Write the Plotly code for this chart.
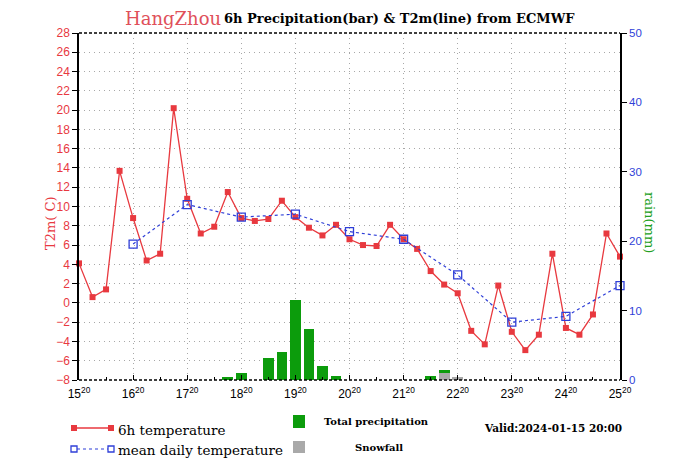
import plotly.graph_objects as go

# ---------------- data ----------------
hours = [6 * i for i in range(41)]  # hours after 15 Jan 20:00
temp_6h = [4.1, 0.6, 1.4, 13.7, 8.8, 4.4, 5.1, 20.2, 10.8, 7.2,
           7.9, 11.5, 8.8, 8.5, 8.7, 10.6, 8.9, 7.8, 7.0, 8.1,
           6.6, 6.0, 5.9, 8.1, 6.6, 5.6, 3.3, 1.9, 1.0, -2.9,
           -4.3, 1.8, -3.0, -4.9, -3.3, 5.1, -2.6, -3.3, -1.2, 7.2,
           4.8]
mean_hours = [24, 48, 72, 96, 120, 144, 168, 192, 216, 240]
temp_mean = [6.1, 10.2, 8.9, 9.2, 7.4, 6.6, 2.9, -2.0, -1.4, 1.8]
precip = [0, 0, 0, 0, 0, 0, 0, 0, 0, 0,
          0, 0.4, 1.0, 0, 3.2, 4.0, 11.6, 7.4, 2.0, 0.6,
          0, 0, 0, 0, 0, 0, 0.6, 1.5, 0.5, 0,
          0, 0, 0, 0, 0, 0, 0, 0, 0, 0,
          0]
snow = [0] * 27 + [1.05, 0.5] + [0] * 12
tick_hours = [0, 24, 48, 72, 96, 120, 144, 168, 192, 216, 240]
tick_days = ["15", "16", "17", "18", "19", "20", "21", "22", "23", "24", "25"]
tick_labels = [d + "<sup>20</sup>" for d in tick_days]

RED = "#e8393f"
BLUE = "#2f3fd8"
GREEN = "#0c9c0c"
GRAY = "#a9a9a9"
GRID = "#a8a8a8"

fig = go.Figure()
fig.add_trace(go.Bar(x=hours, y=precip, yaxis="y2", width=4.75,
                     marker=dict(color=GREEN, line=dict(width=0)), showlegend=False))
fig.add_trace(go.Bar(x=hours, y=snow, yaxis="y2", width=4.75,
                     marker=dict(color=GRAY, line=dict(width=0)), showlegend=False))
fig.add_trace(go.Scatter(x=hours, y=temp_6h, mode="lines+markers",
                         line=dict(color=RED, width=1.3),
                         marker=dict(symbol="square", size=6, color=RED),
                         cliponaxis=False, showlegend=False))
fig.add_trace(go.Scatter(x=mean_hours, y=temp_mean, mode="lines+markers",
                         line=dict(color=BLUE, width=1.2, dash="dot"),
                         marker=dict(symbol="square-open", size=8, color=BLUE, line=dict(width=1.3)),
                         cliponaxis=False, showlegend=False))

# page body has an 8px margin: figure is placed at (8, 8)
OFF = 8
W, H = 700 - OFF, 464 - OFF
PL, PR, PT, PB = 79, 620, 33, 380  # plot area in page pixels
L, T = PL - OFF, PT - OFF
R = W - (PR - OFF)
B = H - (PB - OFF)
pw, ph = PR - PL, PB - PT


def px(x):
    return (x - PL) / pw


def py(y):
    return (PB - y) / ph


shapes = [
    dict(type="line", xref="paper", yref="paper", x0=0, x1=1, y0=0, y1=0,
         line=dict(color="black", width=1.5, dash="3px,2px"), layer="above"),
    dict(type="line", xref="paper", yref="paper", x0=0, x1=1, y0=1, y1=1,
         line=dict(color="black", width=1.5, dash="3px,2px"), layer="above"),
    # legend samples
    dict(type="line", xref="paper", yref="paper", x0=px(74), x1=px(111), y0=py(428), y1=py(428),
         line=dict(color=RED, width=1.3)),
    dict(type="rect", xref="paper", yref="paper", x0=px(71), x1=px(77), y0=py(425), y1=py(431),
         fillcolor=RED, line=dict(width=0)),
    dict(type="rect", xref="paper", yref="paper", x0=px(108), x1=px(114), y0=py(425), y1=py(431),
         fillcolor=RED, line=dict(width=0)),
    dict(type="line", xref="paper", yref="paper", x0=px(77), x1=px(108), y0=py(449), y1=py(449),
         line=dict(color=BLUE, width=1.2, dash="dot")),
    dict(type="rect", xref="paper", yref="paper", x0=px(71), x1=px(77), y0=py(446), y1=py(452),
         line=dict(color=BLUE, width=1.3)),
    dict(type="rect", xref="paper", yref="paper", x0=px(108), x1=px(114), y0=py(446), y1=py(452),
         line=dict(color=BLUE, width=1.3)),
    dict(type="rect", xref="paper", yref="paper", x0=px(293), x1=px(305), y0=py(415), y1=py(428),
         fillcolor=GREEN, line=dict(width=0)),
    dict(type="rect", xref="paper", yref="paper", x0=px(293), x1=px(305), y0=py(441), y1=py(453),
         fillcolor=GRAY, line=dict(width=0)),
]

annotations = [
    dict(text="HangZhou", xref="paper", yref="paper", x=px(123), y=py(19), xanchor="left",
         yanchor="middle", showarrow=False,
         font=dict(family="DejaVu Serif", size=18, color="#e0505a")),
    dict(text="<b>6h Precipitation(bar) &amp; T2m(line) from ECMWF</b>", xref="paper", yref="paper",
         x=px(222), y=py(19), xanchor="left", yanchor="middle", showarrow=False,
         font=dict(family="DejaVu Serif", size=13, color="black")),
    dict(text="T2m( C)", xref="paper", yref="paper", x=px(50), y=py(223), textangle=-90,
         showarrow=False, xanchor="center", yanchor="middle",
         font=dict(family="DejaVu Serif", size=13, color=RED)),
    dict(text="rain(mm)", xref="paper", yref="paper", x=px(650), y=py(222), textangle=90,
         showarrow=False, xanchor="center", yanchor="middle",
         font=dict(family="DejaVu Serif", size=13, color="#22a022")),
    dict(text="6h temperature", xref="paper", yref="paper", x=px(116), y=py(430), xanchor="left",
         yanchor="middle", showarrow=False,
         font=dict(family="DejaVu Serif", size=13.5, color="black")),
    dict(text="mean daily temperature", xref="paper", yref="paper", x=px(116), y=py(450),
         xanchor="left", yanchor="middle", showarrow=False,
         font=dict(family="DejaVu Serif", size=13.5, color="black")),
    dict(text="<b>Total precipitation</b>", xref="paper", yref="paper", x=px(322), y=py(421),
         xanchor="left", yanchor="middle", showarrow=False,
         font=dict(family="DejaVu Serif", size=10, color="black")),
    dict(text="<b>Snowfall</b>", xref="paper", yref="paper", x=px(353), y=py(447),
         xanchor="left", yanchor="middle", showarrow=False,
         font=dict(family="DejaVu Serif", size=10, color="black")),
    dict(text="<b>Valid:2024-01-15 20:00</b>", xref="paper", yref="paper", x=px(482), y=py(428),
         xanchor="left", yanchor="middle", showarrow=False,
         font=dict(family="DejaVu Serif", size=10.5, color="black")),
]

fig.update_layout(
    width=W, height=H,
    margin=dict(l=L, r=R, t=T, b=B, pad=0, autoexpand=False),
    paper_bgcolor="white", plot_bgcolor="white",
    barmode="overlay", bargap=0,
    shapes=shapes, annotations=annotations,
    xaxis=dict(range=[0, 240], tickvals=tick_hours, ticktext=tick_labels,
               showgrid=True, gridcolor=GRID, griddash="1px,4px", gridwidth=1.2,
               ticks="inside", ticklen=5, tickcolor="black", showline=False, zeroline=False,
               minor=dict(dtick=12, tick0=0, ticks="inside", ticklen=3, tickcolor="black", showgrid=False),
               ticklabelstandoff=5,
               tickfont=dict(family="Liberation Sans", size=12, color="black"), automargin=False),
    yaxis=dict(range=[-8, 28], dtick=2, tick0=-8, showgrid=True, gridcolor=GRID,
               griddash="1px,4px", gridwidth=1.2, zeroline=False,
               ticks="outside", ticklen=5, tickcolor="black",
               showline=True, linecolor="black", linewidth=1.5, automargin=False,
               tickfont=dict(family="Liberation Sans", size=12, color=RED)),
    yaxis2=dict(range=[0, 50], dtick=10, overlaying="y", side="right", showgrid=False,
                zeroline=False, ticks="outside", ticklen=5, tickcolor="black",
                showline=True, linecolor="black", linewidth=1.5, automargin=False,
                tickfont=dict(family="Liberation Sans", size=11.5, color=BLUE)),
)

fig.write_html("out.html")
